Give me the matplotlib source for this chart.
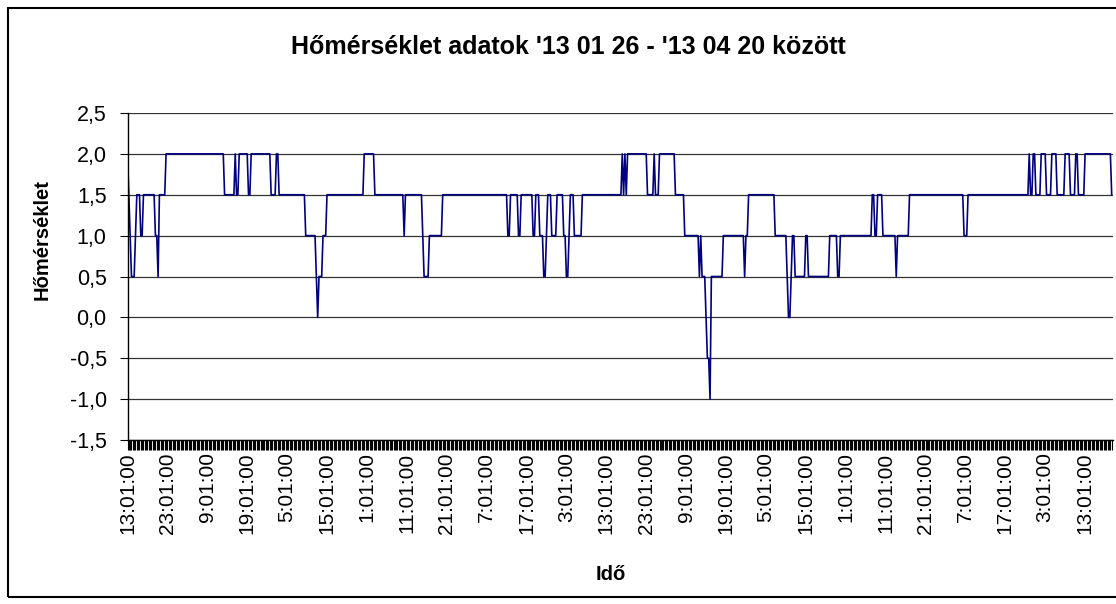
import numpy as np
import matplotlib
matplotlib.use("Agg")
import matplotlib.pyplot as plt
from matplotlib.patches import Rectangle

plt.rcParams['font.family'] = ['Liberation Sans', 'DejaVu Sans']

# temperature readings (20 min apart), stored as runs: level and how many samples
levels = [2.0, 1.5, 1.0, 0.5, 1.0, 1.5, 1.0, 1.5, 1.0, 0.5,
          1.5, 2.0, 1.5, 2.0, 1.5, 2.0, 1.5, 2.0, 1.5, 2.0,
          1.5, 1.0, 0.5, 0.0, 0.5, 1.0, 1.5, 2.0, 1.5, 1.0,
          1.5, 1.0, 0.5, 1.0, 1.5, 1.0, 1.5, 1.0, 1.5, 1.0,
          1.5, 1.0, 0.5, 1.0, 1.5, 1.0, 1.5, 1.0, 0.5, 1.0,
          1.5, 1.0, 1.5, 2.0, 1.5, 2.0, 1.5, 2.0, 1.5, 2.0,
          1.5, 2.0, 1.5, 1.0, 0.5, 1.0, 0.5, 0.0, -0.5, -1.0,
          0.5, 1.0, 0.5, 1.0, 1.5, 1.0, 0.5, 0.0, 0.5, 1.0,
          0.5, 1.0, 0.5, 1.0, 0.5, 1.0, 1.5, 1.0, 1.5, 1.0,
          0.5, 1.0, 1.5, 1.0, 1.5, 2.0, 1.5, 2.0, 1.5, 2.0,
          1.5, 2.0, 1.5, 2.0, 1.5, 2.0, 1.5, 2.0, 1.5]
counts = [1, 1, 1, 3, 1, 3, 2, 9, 2, 1,
          5, 44, 8, 1, 2, 7, 2, 15, 4, 2,
          20, 8, 1, 1, 3, 3, 28, 8, 22, 1,
          13, 1, 4, 10, 49, 2, 6, 2, 9, 2,
          3, 3, 2, 1, 3, 4, 5, 2, 2, 1,
          3, 6, 30, 1, 1, 1, 1, 15, 5, 1,
          3, 12, 7, 11, 1, 1, 3, 1, 2, 1,
          9, 16, 1, 2, 20, 9, 1, 2, 1, 2,
          8, 2, 16, 6, 2, 24, 2, 2, 4, 10,
          1, 9, 41, 3, 46, 1, 2, 2, 4, 4,
          4, 4, 6, 4, 4, 2, 5, 20, 1]

time_labels = ["13:01:00", "23:01:00", "9:01:00", "19:01:00", "5:01:00",
               "15:01:00", "1:01:00", "11:01:00", "21:01:00", "7:01:00",
               "17:01:00", "3:01:00", "13:01:00", "23:01:00", "9:01:00",
               "19:01:00", "5:01:00", "15:01:00", "1:01:00", "11:01:00",
               "21:01:00", "7:01:00", "17:01:00", "3:01:00", "13:01:00"]
label_step = 30

temps = np.repeat(levels, counts)
idx = np.arange(len(temps))

W, H = 1116, 604
fig = plt.figure(figsize=(W / 100, H / 100), dpi=100)
ax = fig.add_axes([127.5 / W, 1 - 440 / H, 985 / W, 327 / H])

ax.plot(idx, temps, color='#000080', lw=1.2)

ax.set_ylim(-1.5, 2.5)
yt = np.arange(-1.5, 2.51, 0.5)
ax.set_yticks(yt)
ax.set_yticklabels([f"{v:.1f}".replace('.', ',') for v in yt], fontsize=15.5)
ax.grid(axis='y', color='#333333', lw=0.9)
ax.set_axisbelow(True)

ax.set_xlim(0, len(temps) - 0.4)
ax.set_xticks(idx[::label_step][:len(time_labels)])
ax.set_xticklabels(time_labels, rotation=90, fontsize=15)
ax.set_xticks(idx, minor=True)
ax.tick_params(axis='x', which='both', length=7, width=0.8, direction='out', pad=2)
ax.tick_params(axis='y', length=6, width=0.8, pad=9)

for s in ['top', 'right']:
    ax.spines[s].set_visible(False)
ax.spines['left'].set_linewidth(1.0)
ax.spines['bottom'].set_linewidth(1.0)

fig.text(42 / W, 1 - 240 / H, "Hőmérséklet", rotation=90, ha='center', va='center',
         fontsize=14.5, fontweight='bold')
fig.text(611 / W, 1 - 574 / H, "Idő", ha='center', va='center',
         fontsize=14.5, fontweight='bold')
fig.text(568 / W, 1 - 47 / H, "Hőmérséklet adatok '13 01 26 - '13 04 20 között",
         ha='center', va='center', fontsize=18, fontweight='bold')

fig.patches.append(Rectangle((8 / W, 7 / H), 1.1, 589 / H,
                             transform=fig.transFigure, fill=False,
                             edgecolor='black', lw=1.5))

fig.savefig("out.png", dpi=100)
